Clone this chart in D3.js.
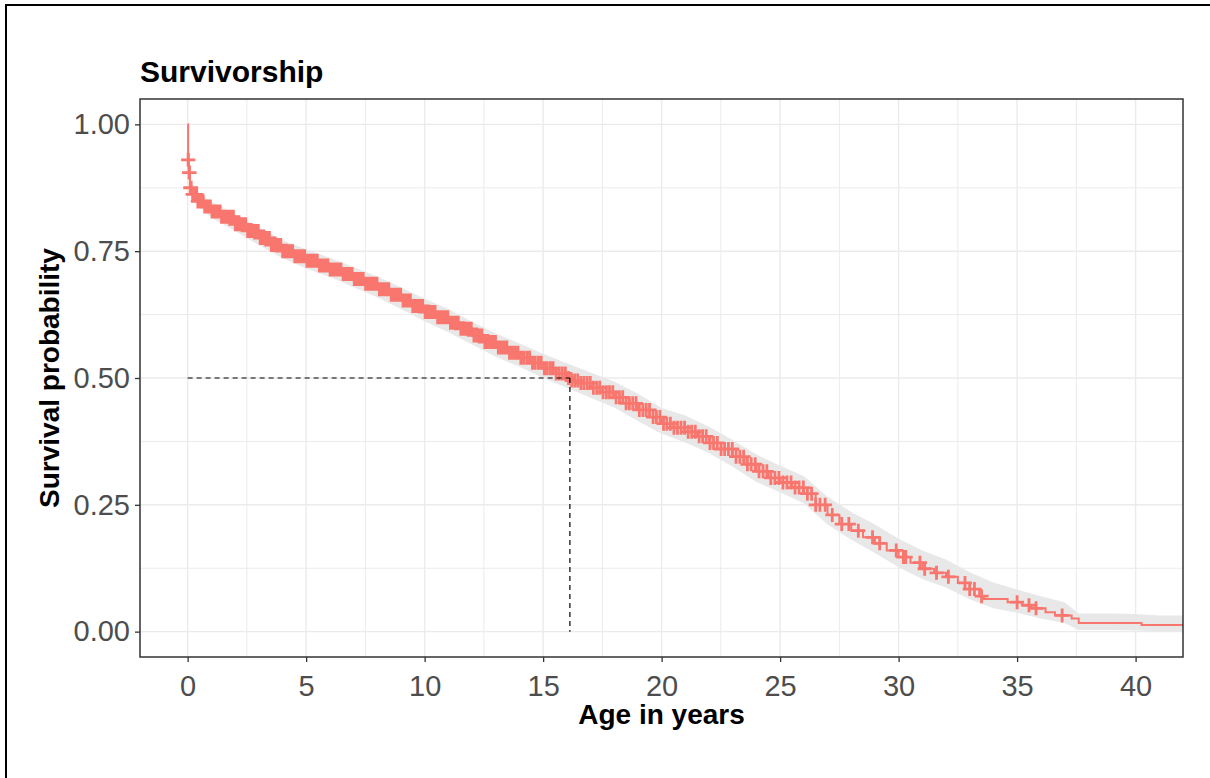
<!DOCTYPE html>
<html>
<head>
<meta charset="utf-8">
<script src="https://cdn.jsdelivr.net/npm/d3@7"></script>
<style>
  body { margin: 0; background: #fff; }
  text { font-family: "Liberation Sans", Arial, sans-serif; }
</style>
</head>
<body>
<svg id="drawing_region"></svg>
<script>
// Kaplan-Meier estimate (step times / survival)
const kmTime = [0, 0.02, 0.05, 0.1, 0.2, 0.4, 0.7, 1.0, 1.4, 2.0, 2.5, 3.0, 3.5, 4.0, 4.5, 5.0, 5.5, 6.0, 6.5, 7.0,
  7.5, 8.0, 8.5, 9.0, 9.5, 10.0, 10.5, 11.0, 11.5, 12.0, 12.5, 13.0, 13.5, 14.0, 14.5, 15.0, 15.5, 16.0, 16.2, 16.5,
  17.0, 17.5, 18.0, 18.5, 19.0, 19.5, 20.0, 20.5, 21.0, 21.5, 22.0, 22.5, 23.0, 23.5, 24.0, 24.5, 25.0, 25.5, 26.0, 26.5,
  27.0, 27.5, 28.0, 28.5, 29.0, 29.5, 30.0, 30.5, 31.0, 31.5, 32.0, 32.5, 33.0, 33.4, 33.6, 34.6, 35.2, 35.6, 36.2, 36.6,
  37.3, 37.6, 40.25, 42.1];
const kmSurv = [1.0, 0.93, 0.905, 0.875, 0.862, 0.848, 0.838, 0.828, 0.818, 0.803, 0.790, 0.776, 0.762, 0.750, 0.740, 0.731, 0.722, 0.714, 0.705, 0.695,
  0.686, 0.675, 0.664, 0.653, 0.642, 0.630, 0.620, 0.609, 0.597, 0.584, 0.571, 0.560, 0.550, 0.540, 0.530, 0.519, 0.509, 0.500, 0.495, 0.490,
  0.481, 0.472, 0.462, 0.450, 0.437, 0.423, 0.410, 0.402, 0.394, 0.385, 0.372, 0.360, 0.345, 0.330, 0.316, 0.303, 0.294, 0.284, 0.272, 0.250,
  0.230, 0.212, 0.199, 0.186, 0.174, 0.160, 0.147, 0.136, 0.124, 0.116, 0.108, 0.096, 0.084, 0.070, 0.0645, 0.058, 0.052, 0.046, 0.038, 0.032,
  0.026, 0.017, 0.013, 0.013];

// confidence band
const ciTime = [0, 0.05, 0.1, 0.5, 1, 2, 3, 4, 5, 6, 7, 8, 9, 10, 11, 12, 13, 14, 15, 16, 17, 18, 19, 20, 21,
  22, 23, 24, 25, 26, 27, 28, 29, 30, 31, 32, 33, 34, 35, 36, 37, 37.6, 39, 40, 41, 42.1];
const ciUpper = [1.0, 0.925, 0.89, 0.865, 0.848, 0.824, 0.798, 0.772, 0.754, 0.737, 0.719, 0.700, 0.679, 0.656, 0.636, 0.611, 0.588, 0.568, 0.548, 0.529, 0.511, 0.493, 0.469, 0.441, 0.426,
  0.404, 0.378, 0.349, 0.327, 0.307, 0.266, 0.236, 0.211, 0.183, 0.160, 0.142, 0.117, 0.097, 0.083, 0.070, 0.058, 0.036, 0.036, 0.035, 0.032, 0.032];
const ciLower = [1.0, 0.895, 0.865, 0.836, 0.816, 0.790, 0.762, 0.736, 0.716, 0.699, 0.679, 0.659, 0.636, 0.612, 0.590, 0.566, 0.542, 0.522, 0.500, 0.481, 0.461, 0.442, 0.415, 0.390, 0.373,
  0.352, 0.325, 0.295, 0.275, 0.253, 0.211, 0.181, 0.155, 0.127, 0.104, 0.087, 0.064, 0.046, 0.037, 0.026, 0.017, 0.003, 0.003, 0.002, 0.001, 0.001];

// censored observations
const censorTime = [
  0.02, 0.03, 0.06, 0.08, 0.11, 0.15, 0.21, 0.26, 0.32, 0.38, 0.43, 0.49, 0.55, 0.61, 0.66, 0.72, 0.79, 0.85, 0.9, 0.96,
  1.03, 1.09, 1.16, 1.22, 1.3, 1.37, 1.43, 1.51, 1.58, 1.64, 1.71, 1.79, 1.86, 1.93,
  2.01, 2.08, 2.15, 2.23, 2.3, 2.38, 2.45, 2.53, 2.6, 2.68, 2.76, 2.83, 2.91, 2.98,
  3.06, 3.14, 3.22, 3.29, 3.37, 3.45, 3.53, 3.61, 3.69, 3.77, 3.85, 3.93,
  4.01, 4.1, 4.18, 4.26, 4.35, 4.43, 4.52, 4.6, 4.69, 4.77, 4.86, 4.94,
  5.03, 5.12, 5.2, 5.29, 5.38, 5.47, 5.56, 5.65, 5.74, 5.83, 5.92,
  6.01, 6.1, 6.19, 6.28, 6.38, 6.47, 6.56, 6.66, 6.75, 6.84, 6.94,
  7.03, 7.13, 7.22, 7.32, 7.41, 7.51, 7.61, 7.7, 7.8, 7.9, 7.99,
  8.09, 8.19, 8.29, 8.39, 8.49, 8.59, 8.69, 8.79, 8.89, 8.99,
  9.09, 9.19, 9.3, 9.4, 9.5, 9.6, 9.71, 9.81, 9.92,
  10.02, 10.13, 10.23, 10.34, 10.44, 10.55, 10.66, 10.76, 10.87, 10.98,
  11.09, 11.2, 11.31, 11.42, 11.53, 11.64, 11.75, 11.86, 11.97,
  12.08, 12.2, 12.31, 12.42, 12.54, 12.65, 12.77, 12.88, 12.99,
  13.11, 13.23, 13.35, 13.47, 13.58, 13.7, 13.82, 13.94,
  14.06, 14.18, 14.31, 14.43, 14.55, 14.67, 14.8, 14.92,
  15.05, 15.17, 15.3, 15.42, 15.55, 15.68, 15.81, 15.94,
  16.07, 16.2, 16.33, 16.46, 16.59, 16.72, 16.86, 16.99,
  17.12, 17.26, 17.39, 17.53, 17.67, 17.8, 17.94,
  18.08, 18.22, 18.36, 18.5, 18.64, 18.78, 18.92,
  19.06, 19.21, 19.35, 19.49, 19.64, 19.78, 19.93,
  20.08, 20.22, 20.37, 20.52, 20.67, 20.82, 20.97,
  21.12, 21.27, 21.42, 21.58, 21.73, 21.88,
  22.04, 22.19, 22.35, 22.51, 22.66, 22.82, 22.98,
  23.14, 23.3, 23.46, 23.62, 23.78, 23.95,
  24.11, 24.28, 24.44, 24.61, 24.78, 24.95,
  25.12, 25.29, 25.46, 25.63, 25.8, 25.98,
  26.15, 26.33, 26.5, 26.68,
  26.9, 27.2, 27.6, 27.9, 28.3, 28.9, 29.2, 29.9, 30.2, 30.3, 30.9, 31.1, 31.6, 32.1, 32.8, 33.0, 33.2, 33.5,
  35.0, 35.5, 35.8, 36.9];

const medianTime = 16.13;
const medianSurv = 0.5;

const xTicks = [0, 5, 10, 15, 20, 25, 30, 35, 40];
const yTicks = [0, 0.25, 0.5, 0.75, 1.0];
const xMinor = [2.5, 7.5, 12.5, 17.5, 22.5, 27.5, 32.5, 37.5, 42.5];
const yMinor = [0.125, 0.375, 0.625, 0.875];

class SurvPlot {
  constructor(config) {
    this.config = config;
    this.init();
  }

  init() {
    let self = this;
    const c = self.config;

    self.svg = d3.select(c.parent)
      .attr('width', c.width)
      .attr('height', c.height);

    // outer frame
    self.svg.append('rect')
      .attr('x', 6).attr('y', 5)
      .attr('width', c.width + 20).attr('height', c.height + 20)
      .attr('fill', '#fff')
      .attr('stroke', '#000')
      .attr('stroke-width', 2);

    self.xscale = d3.scaleLinear()
      .domain([-2.01, 42.0])
      .range([c.panel.left, c.panel.right]);
    self.yscale = d3.scaleLinear()
      .domain([-0.05, 1.05])
      .range([c.panel.bottom, c.panel.top]);

    self.svg.append('defs').append('clipPath').attr('id', 'panel-clip')
      .append('rect')
      .attr('x', c.panel.left).attr('y', c.panel.top)
      .attr('width', c.panel.right - c.panel.left)
      .attr('height', c.panel.bottom - c.panel.top);
  }

  stepAt(t) {
    const i = d3.bisectRight(kmTime, t) - 1;
    return kmSurv[Math.max(0, i)];
  }

  render() {
    let self = this;
    const c = self.config;
    const x = self.xscale, y = self.yscale;

    // grid
    const grid = self.svg.append('g').attr('clip-path', 'url(#panel-clip)');
    grid.selectAll('.vminor').data(xMinor).join('line')
      .attr('x1', d => x(d)).attr('x2', d => x(d))
      .attr('y1', c.panel.top).attr('y2', c.panel.bottom)
      .attr('stroke', '#ebebeb').attr('stroke-width', 1);
    grid.selectAll('.hminor').data(yMinor).join('line')
      .attr('y1', d => y(d)).attr('y2', d => y(d))
      .attr('x1', c.panel.left).attr('x2', c.panel.right)
      .attr('stroke', '#ebebeb').attr('stroke-width', 1);
    grid.selectAll('.vmajor').data(xTicks).join('line')
      .attr('x1', d => x(d)).attr('x2', d => x(d))
      .attr('y1', c.panel.top).attr('y2', c.panel.bottom)
      .attr('stroke', '#ebebeb').attr('stroke-width', 1.4);
    grid.selectAll('.hmajor').data(yTicks).join('line')
      .attr('y1', d => y(d)).attr('y2', d => y(d))
      .attr('x1', c.panel.left).attr('x2', c.panel.right)
      .attr('stroke', '#ebebeb').attr('stroke-width', 1.4);

    const plot = self.svg.append('g').attr('clip-path', 'url(#panel-clip)');

    // confidence band
    const ci = ciTime.map((t, i) => ({t: t, lo: ciLower[i], hi: ciUpper[i]}));
    const band = d3.area()
      .x(d => x(d.t))
      .y0(d => y(d.lo))
      .y1(d => y(d.hi));
    plot.append('path')
      .attr('d', band(ci))
      .attr('fill', '#e8e8e8');

    // KM step curve
    const km = kmTime.map((t, i) => ({t: t, s: kmSurv[i]}));
    const line = d3.line()
      .curve(d3.curveStepAfter)
      .x(d => x(d.t))
      .y(d => y(d.s));
    plot.append('path')
      .attr('d', line(km))
      .attr('fill', 'none')
      .attr('stroke', c.color)
      .attr('stroke-width', 2);

    // censor marks
    const h = 7;
    const cross = d3.path();
    censorTime.forEach(t => {
      const cx = x(t), cy = y(self.stepAt(t));
      cross.moveTo(cx - h, cy); cross.lineTo(cx + h, cy);
      cross.moveTo(cx, cy - h); cross.lineTo(cx, cy + h);
    });
    plot.append('path')
      .attr('d', cross.toString())
      .attr('fill', 'none')
      .attr('stroke', c.color)
      .attr('stroke-width', 2.8);

    // median survival lines
    plot.append('line')
      .attr('x1', x(0)).attr('x2', x(medianTime))
      .attr('y1', y(medianSurv)).attr('y2', y(medianSurv))
      .attr('stroke', '#000').attr('stroke-width', 1.2)
      .attr('stroke-dasharray', '5,4');
    plot.append('line')
      .attr('x1', x(medianTime)).attr('x2', x(medianTime))
      .attr('y1', y(medianSurv)).attr('y2', y(0))
      .attr('stroke', '#000').attr('stroke-width', 1.2)
      .attr('stroke-dasharray', '5,4');

    // panel border
    self.svg.append('rect')
      .attr('x', c.panel.left).attr('y', c.panel.top)
      .attr('width', c.panel.right - c.panel.left)
      .attr('height', c.panel.bottom - c.panel.top)
      .attr('fill', 'none')
      .attr('stroke', '#333').attr('stroke-width', 1.5);

    // axes
    const xaxis = d3.axisBottom(x).tickValues(xTicks).tickSize(5).tickPadding(6).tickSizeOuter(0)
      .tickFormat(d3.format('d'));
    const yaxis = d3.axisLeft(y).tickValues(yTicks).tickSize(5).tickPadding(5).tickSizeOuter(0)
      .tickFormat(d3.format('.2f'));

    const xg = self.svg.append('g')
      .attr('transform', `translate(0, ${c.panel.bottom})`)
      .call(xaxis);
    const yg = self.svg.append('g')
      .attr('transform', `translate(${c.panel.left}, 0)`)
      .call(yaxis);
    [xg, yg].forEach(g => {
      g.select('.domain').remove();
      g.selectAll('.tick line').attr('stroke', '#333').attr('stroke-width', 1.3);
      g.selectAll('.tick text')
        .attr('fill', '#4d4d4d')
        .style('font-size', '29px')
        .style('font-family', '"Liberation Sans", Arial, sans-serif');
    });
    xg.selectAll('.tick text').attr('dy', '0.95em');

    // titles
    self.svg.append('text')
      .attr('x', c.panel.left).attr('y', 82)
      .style('font-size', '30px').style('font-weight', 'bold')
      .text(c.title);
    self.svg.append('text')
      .attr('x', (c.panel.left + c.panel.right) / 2).attr('y', 724)
      .attr('text-anchor', 'middle')
      .style('font-size', '28px').style('font-weight', 'bold')
      .text('Age in years');
    self.svg.append('text')
      .attr('transform', `translate(59, ${(c.panel.top + c.panel.bottom) / 2}) rotate(-90)`)
      .attr('text-anchor', 'middle')
      .style('font-size', '28px').style('font-weight', 'bold')
      .text('Survival probability');
  }
}

const plot = new SurvPlot({
  parent: '#drawing_region',
  width: 1210,
  height: 778,
  panel: {left: 140, right: 1183, top: 99, bottom: 657},
  color: '#F8766D',
  title: 'Survivorship'
});
plot.render();
</script>
</body>
</html>
